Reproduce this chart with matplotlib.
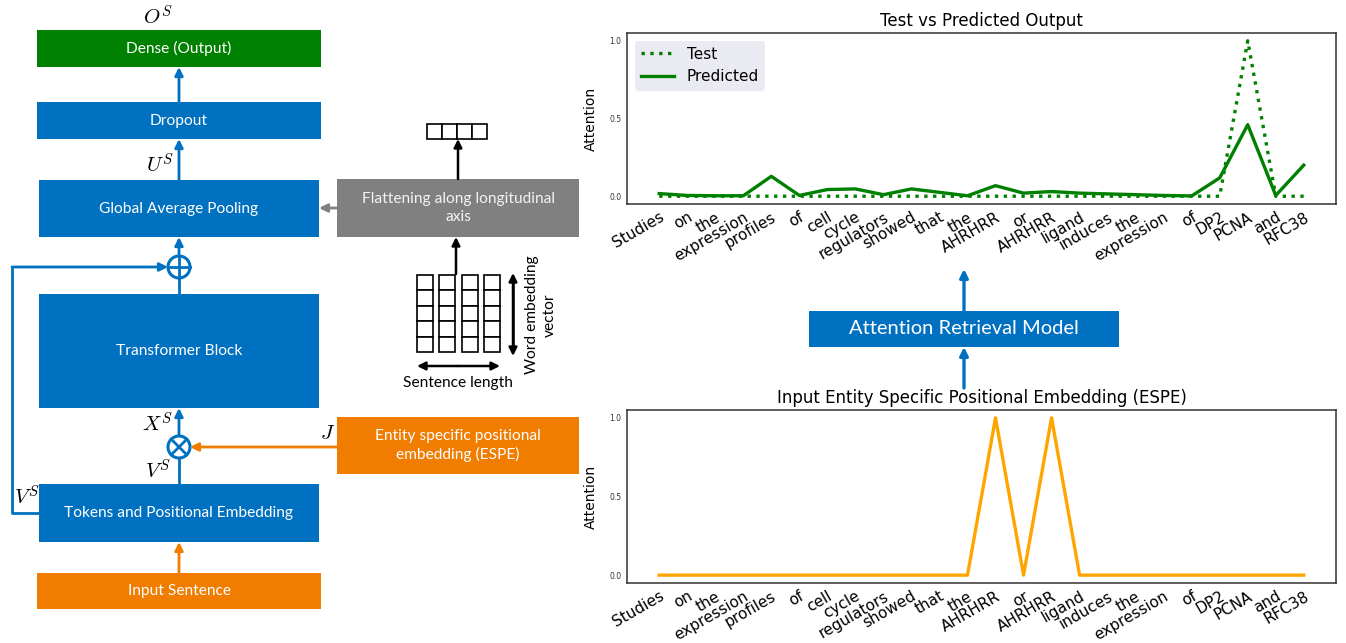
import numpy as np
import matplotlib.pyplot as plt
from matplotlib.patches import Rectangle, Circle, FancyArrowPatch

# ---------------------------------------------------------------------------
# data
# ---------------------------------------------------------------------------
tokens = ['Studies', 'on', 'the', 'expression', 'profiles', 'of', 'cell', 'cycle',
          'regulators', 'showed', 'that', 'the', 'AHRHRR', 'or', 'AHRHRR', 'ligand',
          'induces', 'the', 'expression', 'of', 'DP2', 'PCNA', 'and', 'RFC38']

test_attn = [0, 0, 0, 0, 0, 0, 0, 0, 0, 0, 0, 0,
             0, 0, 0, 0, 0, 0, 0, 0, 0, 1.0, 0, 0]
pred_attn = [0.017, 0.005, 0.003, 0.003, 0.128, 0.005, 0.043, 0.047, 0.010, 0.047,
             0.025, 0.003, 0.068, 0.020, 0.030, 0.020, 0.015, 0.010, 0.005, 0.002,
             0.118, 0.460, 0.005, 0.200]
espe_attn = [0, 0, 0, 0, 0, 0, 0, 0, 0, 0, 0, 0,
             1.0, 0, 1.0, 0, 0, 0, 0, 0, 0, 0, 0, 0]

BLUE = '#0070C0'
GREEN = '#008000'
ORANGE = '#F07C00'
GREY = '#808080'
BOX_FONT = 'Lato'

W, H = 1346, 643
fig = plt.figure(figsize=(W / 100, H / 100), dpi=100)

# ---------------------------------------------------------------------------
# block diagram (pixel coordinates, origin top-left)
# ---------------------------------------------------------------------------
d = fig.add_axes([0, 0, 1, 1])
d.set_xlim(0, W)
d.set_ylim(H, 0)
d.axis('off')


def box(x0, y0, x1, y1, color, text, size=11.2, tcolor='white'):
    d.add_patch(Rectangle((x0, y0), x1 - x0, y1 - y0, facecolor=color, edgecolor='none'))
    d.text((x0 + x1) / 2, (y0 + y1) / 2, text, color=tcolor, fontsize=size,
           family=BOX_FONT, ha='center', va='center', linespacing=1.4)


def arrow(p0, p1, color, style='-|>', lw=2.0, ms=12):
    d.add_patch(FancyArrowPatch(p0, p1, arrowstyle=style, color=color, lw=lw,
                                mutation_scale=ms, shrinkA=0, shrinkB=0))


def math(x, y, s, size=15):
    d.text(x, y, s, fontsize=size, ha='center', va='center', math_fontfamily='cm')


cx = 179
box(37, 30, 321, 67, GREEN, 'Dense (Output)')
box(37, 102, 321, 139, BLUE, 'Dropout')
box(39, 180, 319, 237, BLUE, 'Global Average Pooling')
box(39, 294, 319, 408, BLUE, 'Transformer Block')
box(39, 484, 319, 542, BLUE, 'Tokens and Positional Embedding')
box(37, 573, 321, 609, ORANGE, 'Input Sentence')
box(337, 179, 579, 237, GREY, 'Flattening along longitudinal\naxis', tcolor='#F2F2F2')
box(337, 417, 579, 474, ORANGE, 'Entity specific positional\nembedding (ESPE)')

# vertical flow
arrow((cx, 102), (cx, 67), BLUE)
arrow((cx, 180), (cx, 139), BLUE)
arrow((cx, 255), (cx, 237), BLUE)
d.plot([cx, cx], [294, 278], color=BLUE, lw=2)
arrow((cx, 435), (cx, 408), BLUE)
d.plot([cx, cx], [484, 459], color=BLUE, lw=2)
arrow((cx, 573), (cx, 542), ORANGE)

# sum node and residual path
r = 11
d.add_patch(Circle((cx, 267), r, facecolor='white', edgecolor=BLUE, lw=2.2))
d.plot([cx, cx], [267 - r, 267 + r], color=BLUE, lw=2)
d.plot([cx - r, cx + r], [267, 267], color=BLUE, lw=2)
d.plot([39, 12, 12], [513, 513, 267], color=BLUE, lw=2)
arrow((12, 267), (cx - r, 267), BLUE)

# product node with ESPE input
d.add_patch(Circle((cx, 447), r, facecolor='white', edgecolor=BLUE, lw=2.2))
k = r * 0.7
d.plot([cx - k, cx + k], [447 - k, 447 + k], color=BLUE, lw=2)
d.plot([cx - k, cx + k], [447 + k, 447 - k], color=BLUE, lw=2)
arrow((337, 447), (cx + r, 447), ORANGE)

# flattening path
arrow((337, 208), (319, 208), GREY)
arrow((458, 179), (458, 139), 'black', lw=1.8)
arrow((456, 274), (456, 237), 'black', lw=1.8)
for i in range(4):
    d.add_patch(Rectangle((427 + i * 15, 124), 15, 15, facecolor='white',
                          edgecolor='black', lw=1.2))
col_x = [417, 439, 462, 484]
for x0 in col_x:
    for j in range(5):
        d.add_patch(Rectangle((x0, 275 + j * 15.4), 16, 15.4, facecolor='white',
                              edgecolor='black', lw=1.2))
arrow((513, 290), (513, 273), 'black', lw=1.8)
arrow((513, 290), (513, 356), 'black', lw=1.8)
d.plot([513, 513], [280, 348], color='black', lw=1.8)
arrow((458, 366), (417, 366), 'black', lw=1.8)
arrow((458, 366), (500, 366), 'black', lw=1.8)
d.text(458, 383, 'Sentence length', fontsize=11.2, family=BOX_FONT,
       ha='center', va='center')
d.text(541, 315, 'Word embedding\nvector', fontsize=11.2, family=BOX_FONT,
       ha='center', va='center', rotation=90, linespacing=1.3)

math(158, 17, r'$O^S$')
math(160, 165, r'$U^S$')
math(158, 424, r'$X^S$')
math(158, 471, r'$V^S$')
math(27, 497, r'$V^S$')
math(328, 433, r'$J$')

# link between the two plots
box(809, 311, 1119, 347, BLUE, 'Attention Retrieval Model', size=14.5)
arrow((964, 311), (964, 269), BLUE, lw=2.4)
arrow((964, 388), (964, 347), BLUE, lw=2.4)

# ---------------------------------------------------------------------------
# attention plots
# ---------------------------------------------------------------------------
x = np.arange(len(tokens))


def attn_axes(top, bottom):
    ax = fig.add_axes([627 / W, 1 - bottom / H, (1336 - 627) / W, (bottom - top) / H])
    ax.set_xticks(x)
    ax.set_xticklabels(tokens, rotation=30, ha='right', rotation_mode='anchor',
                       fontsize=11)
    ax.set_yticks([0.0, 0.5, 1.0])
    ax.set_yticklabels(['0.0', '0.5', '1.0'], fontsize=5.5, color='#333333')
    ax.tick_params(length=0, pad=4)
    ax.set_ylabel('Attention', fontsize=10, labelpad=8)
    for s in ax.spines.values():
        s.set_color('#333333')
        s.set_linewidth(1.1)
    return ax


ax1 = attn_axes(33, 204)
ax1.plot(x, test_attn, ':', color=GREEN, lw=2.4, label='Test')
ax1.plot(x, pred_attn, '-', color=GREEN, lw=2.4, label='Predicted')
ax1.set_title('Test vs Predicted Output', fontsize=12, pad=5)
leg = ax1.legend(loc='upper left', fontsize=11, facecolor='#EAEAF2', edgecolor='none',
                 framealpha=1, handlelength=2.2)

ax2 = attn_axes(410, 583)
ax2.plot(x, espe_attn, '-', color='orange', lw=2.4)
ax2.set_title('Input Entity Specific Positional Embedding (ESPE)', fontsize=12, pad=5)

fig.savefig('out.png', dpi=100)
